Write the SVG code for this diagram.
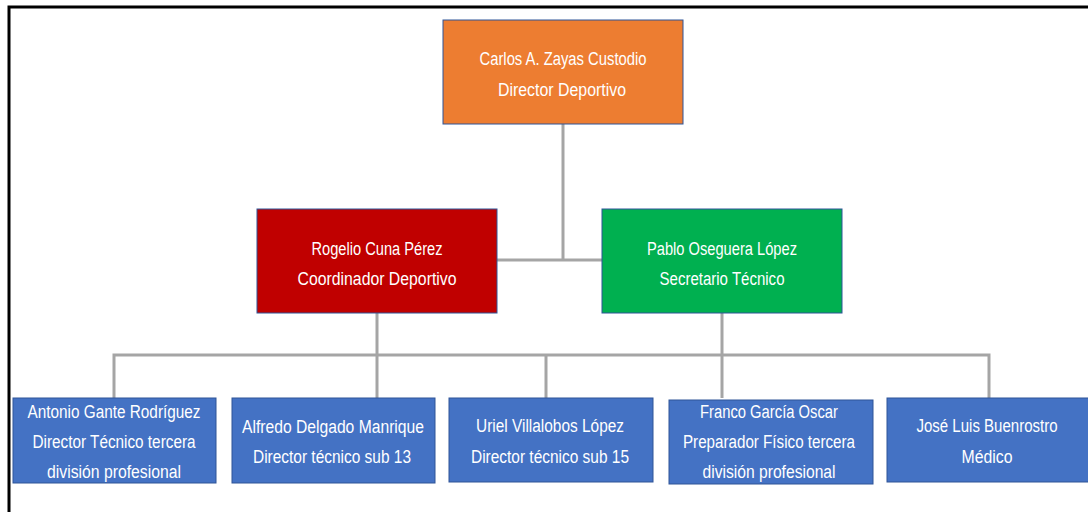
<svg xmlns="http://www.w3.org/2000/svg" width="1088" height="512" viewBox="0 0 1088 512">
<style>
.box{stroke:#2F5597;stroke-width:1}
.t{font-family:"Liberation Sans",Arial,sans-serif;font-size:18px;fill:#FFFFFF;text-anchor:middle}
.c{stroke:#A5A5A5;stroke-width:3;fill:none}
</style>
<rect x="0" y="0" width="1088" height="512" fill="#FFFFFF"/>
<path d="M9,512 V7 H1088" stroke="#000000" stroke-width="3" fill="none"/>
<g id="connectors">
<path class="c" d="M563,124 V260"/>
<path class="c" d="M497,260 H602"/>
<path class="c" d="M377,313 V398"/>
<path class="c" d="M722,313 V398"/>
<path class="c" d="M114,398 V355 H989 V398"/>
<path class="c" d="M546,355 V398"/>
</g>
<g id="n-carlos">
<rect class="box" x="443" y="20" width="240" height="104" fill="#ED7D31"/>
<text class="t" x="563" y="65" textLength="167" lengthAdjust="spacingAndGlyphs">Carlos A. Zayas Custodio</text>
<text class="t" x="562" y="96" textLength="128" lengthAdjust="spacingAndGlyphs">Director Deportivo</text>
</g>
<g id="n-rogelio">
<rect class="box" x="257" y="209" width="240" height="104" fill="#C00000"/>
<text class="t" x="377" y="255" textLength="131" lengthAdjust="spacingAndGlyphs">Rogelio Cuna Pérez</text>
<text class="t" x="377" y="285" textLength="159" lengthAdjust="spacingAndGlyphs">Coordinador Deportivo</text>
</g>
<g id="n-pablo">
<rect class="box" x="602" y="209" width="240" height="104" fill="#00B050"/>
<text class="t" x="722" y="255" textLength="150" lengthAdjust="spacingAndGlyphs">Pablo Oseguera López</text>
<text class="t" x="722" y="285" textLength="125" lengthAdjust="spacingAndGlyphs">Secretario Técnico</text>
</g>
<g id="n-antonio">
<rect class="box" x="13" y="398" width="203" height="85" fill="#4472C4"/>
<text class="t" x="114" y="418" textLength="173" lengthAdjust="spacingAndGlyphs">Antonio Gante Rodríguez</text>
<text class="t" x="114" y="448" textLength="163" lengthAdjust="spacingAndGlyphs">Director Técnico tercera</text>
<text class="t" x="114" y="478" textLength="134" lengthAdjust="spacingAndGlyphs">división profesional</text>
</g>
<g id="n-alfredo">
<rect class="box" x="232" y="398" width="203" height="85" fill="#4472C4"/>
<text class="t" x="333" y="433" textLength="182" lengthAdjust="spacingAndGlyphs">Alfredo Delgado Manrique</text>
<text class="t" x="332" y="463" textLength="158" lengthAdjust="spacingAndGlyphs">Director técnico sub 13</text>
</g>
<g id="n-uriel">
<rect class="box" x="449" y="398" width="204" height="84" fill="#4472C4"/>
<text class="t" x="550" y="432" textLength="148" lengthAdjust="spacingAndGlyphs">Uriel Villalobos López</text>
<text class="t" x="550" y="463" textLength="158" lengthAdjust="spacingAndGlyphs">Director técnico sub 15</text>
</g>
<g id="n-franco">
<rect class="box" x="669" y="400" width="204" height="84" fill="#4472C4"/>
<text class="t" x="769" y="418" textLength="138" lengthAdjust="spacingAndGlyphs">Franco García Oscar</text>
<text class="t" x="769" y="448" textLength="172" lengthAdjust="spacingAndGlyphs">Preparador Físico tercera</text>
<text class="t" x="769" y="478" textLength="133" lengthAdjust="spacingAndGlyphs">división profesional</text>
</g>
<g id="n-jose">
<rect class="box" x="887" y="398" width="205" height="84" fill="#4472C4"/>
<text class="t" x="987" y="432" textLength="141" lengthAdjust="spacingAndGlyphs">José Luis Buenrostro</text>
<text class="t" x="987" y="463" textLength="51" lengthAdjust="spacingAndGlyphs">Médico</text>
</g>
</svg>
